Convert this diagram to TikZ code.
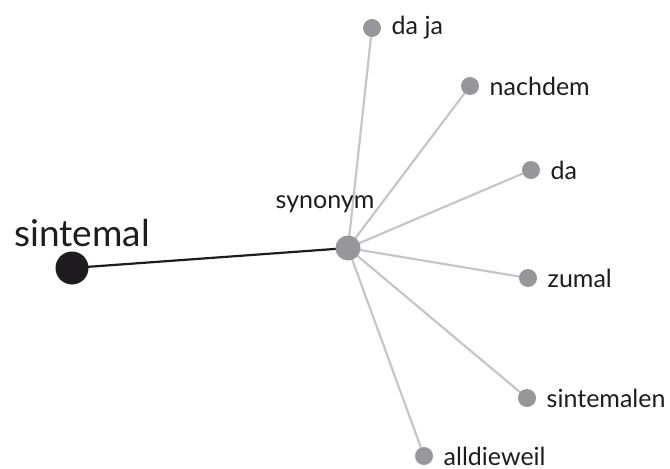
\documentclass[tikz,border=0pt]{standalone}
\usepackage{fontspec}
\setmainfont{Lato}
\usetikzlibrary{positioning,backgrounds}

\definecolor{leafgray}{HTML}{97979B}
\definecolor{linegray}{HTML}{C6C6C8}
\definecolor{rootblack}{HTML}{1E1C1E}

\tikzset{
  leaf/.style={circle,fill=leafgray,minimum size=18pt,inner sep=0pt,
    label={[font=\fontsize{25}{28}\selectfont,text=rootblack,xshift=7pt]right:#1}},
  hub/.style={circle,fill=leafgray,minimum size=25pt,inner sep=0pt},
  root/.style={circle,fill=rootblack,minimum size=33pt,inner sep=0pt},
  syn/.style={draw=linegray,line width=2.2pt},
}

\begin{document}
\begin{tikzpicture}[x=1pt,y=-1pt]
    \useasboundingbox (0,0) rectangle (670,469);
    \node[root] (sintemal) at (72,268) {};
    \node[font=\fontsize{37}{40}\selectfont,text=rootblack] at (82,233) {sintemal};
    \node[hub] (syn) at (348,248) {};
    \node[font=\fontsize{25}{28}\selectfont,text=rootblack] at (325,204) {synonym};
    \node[leaf={da ja}] (daja) at (372,28) {};
    \node[leaf={nachdem}] (nachdem) at (470,86) {};
    \node[leaf={da}] (da) at (531,170) {};
    \node[leaf={zumal}] (zumal) at (528,278) {};
    \node[leaf={sintemalen}] (sintemalen) at (527,398) {};
    \node[leaf={alldieweil}] (alldieweil) at (424,456) {};
    \begin{pgfonlayer}{background}
    \path[syn]
    (syn.center) edge (daja.center)
    edge (nachdem.center)
    edge (da.center)
    edge (zumal.center)
    edge (sintemalen.center)
    edge (alldieweil.center);
    \draw[rootblack,line width=2.2pt] (sintemal.center) -- (syn.center);
    \end{pgfonlayer}
\end{tikzpicture}
\end{document}
